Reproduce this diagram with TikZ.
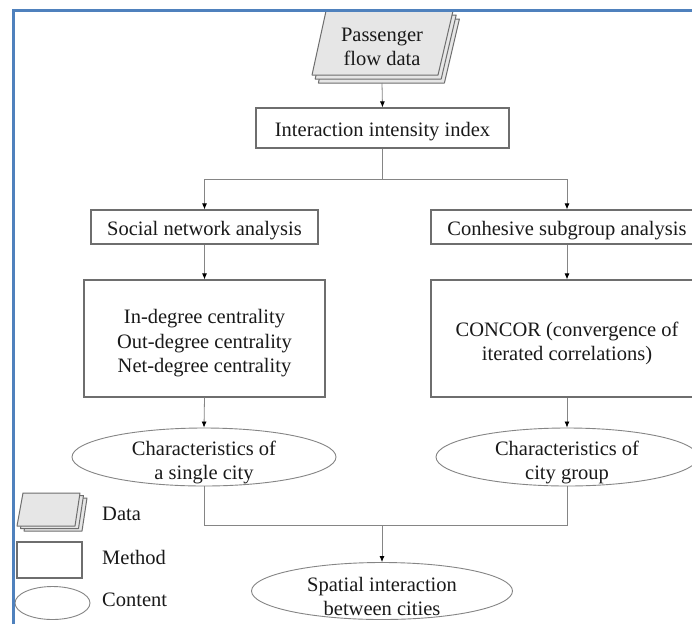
\documentclass[tikz,border=0pt]{standalone}
\usepackage{fontspec}
\setmainfont{Liberation Serif}
\usetikzlibrary{arrows.meta,shapes.geometric}
\definecolor{frameblue}{HTML}{4F81BD}
\definecolor{boxgray}{HTML}{6E6E6E}
\definecolor{linegray}{HTML}{858585}
\definecolor{datafill}{HTML}{E6E6E6}
\begin{document}
\begin{tikzpicture}[x=1pt,y=-1pt,
  every node/.style={font=\fontsize{20.5}{24.5}\selectfont, text=black!90, inner sep=0pt},
  method/.style={draw=boxgray, line width=1.2pt, rectangle},
  content/.style={draw=linegray, line width=0.9pt, ellipse},
  txt/.style={align=center},
  conn/.style={draw=linegray, line width=0.8pt},
  arr/.style={conn, -{Latex[length=6pt,width=5pt,color=black]}},
  sheet/.style={draw=boxgray, fill=datafill, line width=1pt, line join=round},
]
\clip (0,0) rectangle (692,624);
\fill[white] (0,0) rectangle (692,624);

% data (top)
\foreach \d in {8,4,0}
  \filldraw[sheet] (326+0.8*\d,11+\d) -- (453+0.8*\d,11+\d) -- (438+0.8*\d,75+\d) -- (312+0.8*\d,75+\d) -- cycle;
\node[txt] (data) at (382,47) {Passenger\\flow data};
\coordinate (dataB) at (382,83);

% methods
\node[method, minimum width=253, minimum height=40] (inter) at (382.5,128) {};
\node[txt] (interT) at ([yshift=-3.5pt]inter.center) {Interaction intensity index};
\node[method, minimum width=227, minimum height=34] (sna) at (204.5,227) {};
\node[txt] (snaT) at ([yshift=-3.5pt]sna.center) {Social network analysis};
\node[method, minimum width=272, minimum height=34] (csa) at (567,227) {};
\node[txt] (csaT) at ([yshift=-3.5pt]csa.center) {Conhesive subgroup analysis};
\node[method, minimum width=241, minimum height=117] (deg) at (204.5,338.5) {};
\node[txt] (degT) at ([yshift=-5pt]deg.center)
  {In-degree centrality\\Out-degree centrality\\Net-degree centrality};
\node[method, minimum width=272, minimum height=117] (concor) at (567,338.5) {};
\node[txt] (concorT) at ([yshift=-5pt]concor.center)
  {CONCOR (convergence of\\iterated correlations)};

% contents
\node[content, minimum width=264, minimum height=58] (e1) at (204,457) {};
\node[txt] (e1T) at ([yshift=-5.5pt]e1.center) {Characteristics of\\a single city};
\node[content, minimum width=262, minimum height=58] (e2) at (567,457) {};
\node[txt] (e2T) at ([yshift=-5.5pt]e2.center) {Characteristics of\\city group};
\node[content, minimum width=261, minimum height=57] (e3) at (382,591) {};
\node[txt] (e3T) at ([yshift=-5.5pt]e3.center) {Spatial interaction\\between cities};

% connectors
\draw[arr] (dataB) -- (inter.north);
\draw[arr] (inter.south) -- ++(0,31) -| (sna.north);
\draw[arr] (inter.south) -- ++(0,31) -| (csa.north);
\draw[arr] (sna.south) -- (deg.north);
\draw[arr] (csa.south) -- (concor.north);
\draw[arr] (deg.south) -- (e1.north);
\draw[arr] (concor.south) -- (e2.north);
\coordinate (m) at (382,525);
\draw[conn] (e1.south) |- (m) -| (e2.south);
\draw[arr] (m) -- (e3.north);

% legend
\foreach \d in {5,2.5,0}
  \filldraw[sheet] (23+1.4*\d,493+\d) -- (80+1.4*\d,493+\d) -- (75+1.4*\d,526+\d) -- (17+1.4*\d,526+\d) -- cycle;
\node[anchor=west] (ldata) at (102,514) {Data};
\node[method, minimum width=65, minimum height=36] (lmethod) at (49.5,560) {};
\node[anchor=west] (lmethodt) at (102,557) {Method};
\node[content, minimum width=75, minimum height=33] (lcontent) at (52.5,603) {};
\node[anchor=west] (lcontentt) at (102,600) {Content};

% frame
\draw[frameblue, line width=3pt] (13.8,624) -- (13.8,10.8) -- (692,10.8);
\end{tikzpicture}
\end{document}
